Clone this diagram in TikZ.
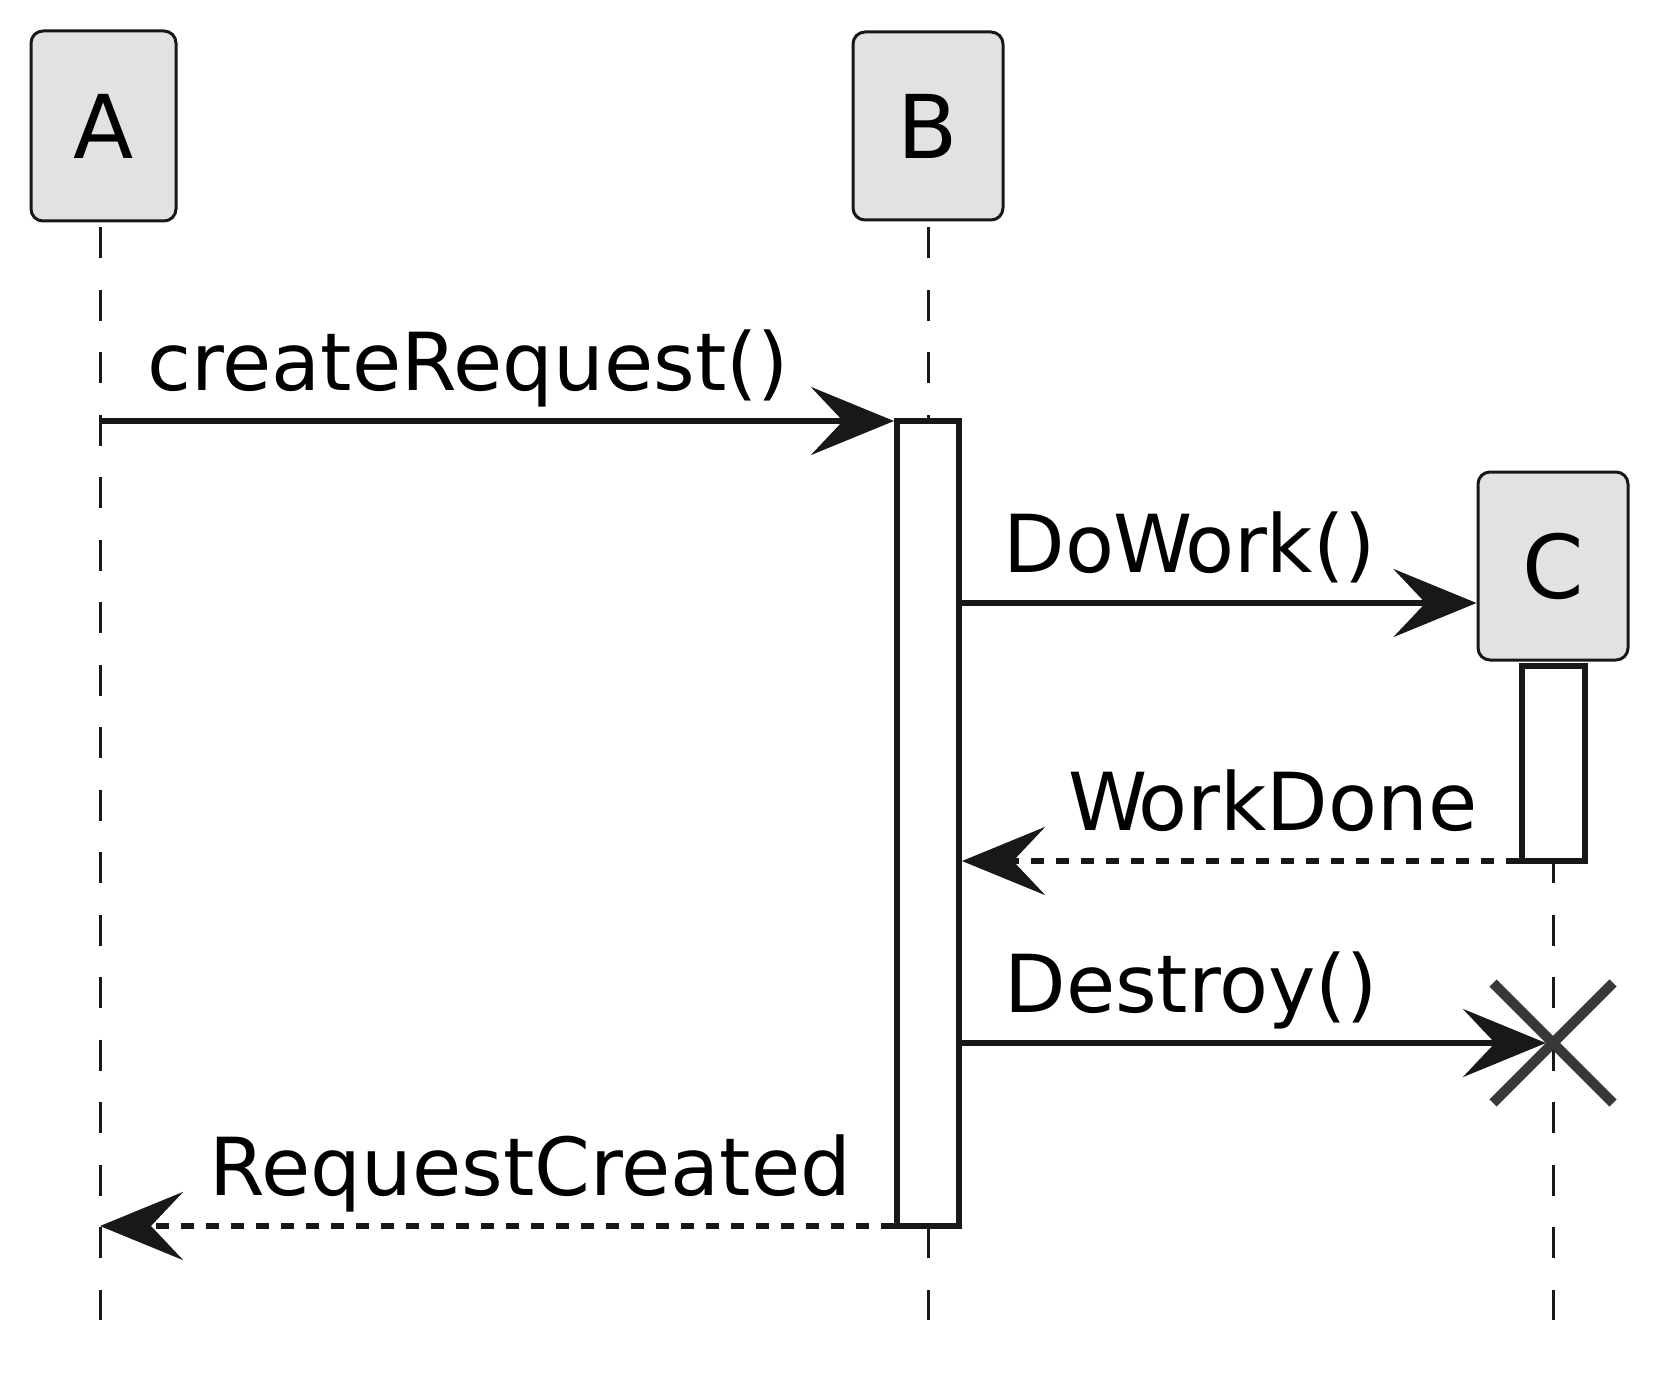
\documentclass[tikz,border=0pt]{standalone}
\usepackage{fontspec}
\setmainfont{DejaVu Sans}
\usetikzlibrary{arrows.meta,calc}
\definecolor{ln}{HTML}{181818}
\definecolor{boxfill}{HTML}{E2E2E2}
\definecolor{xcol}{HTML}{383838}
\tikzset{
  pbox/.style={draw=ln, fill=boxfill, line width=1.5pt, rounded corners=6pt, inner sep=0pt, font=\fontsize{44pt}{50pt}\selectfont},
  actbox/.style={draw=ln, fill=white, line width=3pt, inner sep=0pt},
  lifeline/.style={draw=ln, line width=1.5pt, dash pattern=on 15.625pt off 15.625pt},
  msg/.style={draw=ln, line width=3pt, -{Stealth[length=41.5pt,width=34pt,inset=16pt]}},
  retmsg/.style={msg, dash pattern=on 6.5pt off 6pt},
  msglabel/.style={anchor=base west, inner sep=0pt, font=\fontsize{40pt}{46pt}\selectfont},
  destroyx/.style={draw=xcol, line width=5pt}
}
\begin{document}
\begin{tikzpicture}[x=0.5pt,y=-0.5pt]
\useasboundingbox (0,0) rectangle (1659,1375);
% lifelines
\coordinate (lAtop) at (100,227);
\coordinate (lAbot) at (100,1320);
\coordinate (lBtop) at (928,227);
\coordinate (lBbot) at (928,1320);
\coordinate (lCtop) at (1553,227);
\coordinate (lCbot) at (1553,1320);
\draw[lifeline] (lAtop) -- (lAbot);
\draw[lifeline] (lBtop) -- (lBbot);
\begin{scope}
  \clip (1500,660) rectangle (1610,1330);
  \draw[lifeline] (lCtop) -- (lCbot);
\end{scope}
% activations
\node[actbox, minimum width=31pt, minimum height=402.5pt] (actB) at (928,823.5) {};
\node[actbox, minimum width=31.5pt, minimum height=97.5pt] (actC) at (1553.5,763.5) {};
% participants
\node[pbox, minimum width=72.5pt, minimum height=95pt] (pA) at (103.5,126) {A};
\node[pbox, minimum width=75pt, minimum height=94pt] (pB) at (928,126) {B};
\node[pbox, minimum width=75pt, minimum height=94pt] (pC) at (1553,566) {C};
% message levels
\coordinate (y1) at (100,421);
\coordinate (y2) at (0,603);
\coordinate (y3) at (0,861);
\coordinate (y4) at (0,1043);
\coordinate (y5) at (100,1226);
\coordinate (xC) at (1553,1043);
\coordinate (xtip) at (1546,1043);
% messages
\draw[msg] (y1) -- (actB.west |- y1);
\node[msglabel] (t1) at (147,390) {createRequest()};
\draw[msg] (actB.east |- y2) -- (pC.west |- y2);
\node[msglabel] (t2) at (1003,572) {DoW\kern-4pt ork()};
\draw[retmsg] (actC.west |- y3) -- (actB.east |- y3);
\node[msglabel] (t3) at (1068,830) {W\kern-4.5pt orkDone};
\draw[msg] (actB.east |- y4) -- (xtip);
\node[msglabel] (t4) at (1004,1012) {Destroy()};
\draw[retmsg] (actB.west |- y5) -- (y5);
\node[msglabel] (t5) at (209,1195) {RequestCreated};
% destroy cross
\draw[destroyx] ($(xC)+(-60,-60)$) -- ($(xC)+(60,60)$);
\draw[destroyx] ($(xC)+(-60,60)$) -- ($(xC)+(60,-60)$);
\end{tikzpicture}
\end{document}
